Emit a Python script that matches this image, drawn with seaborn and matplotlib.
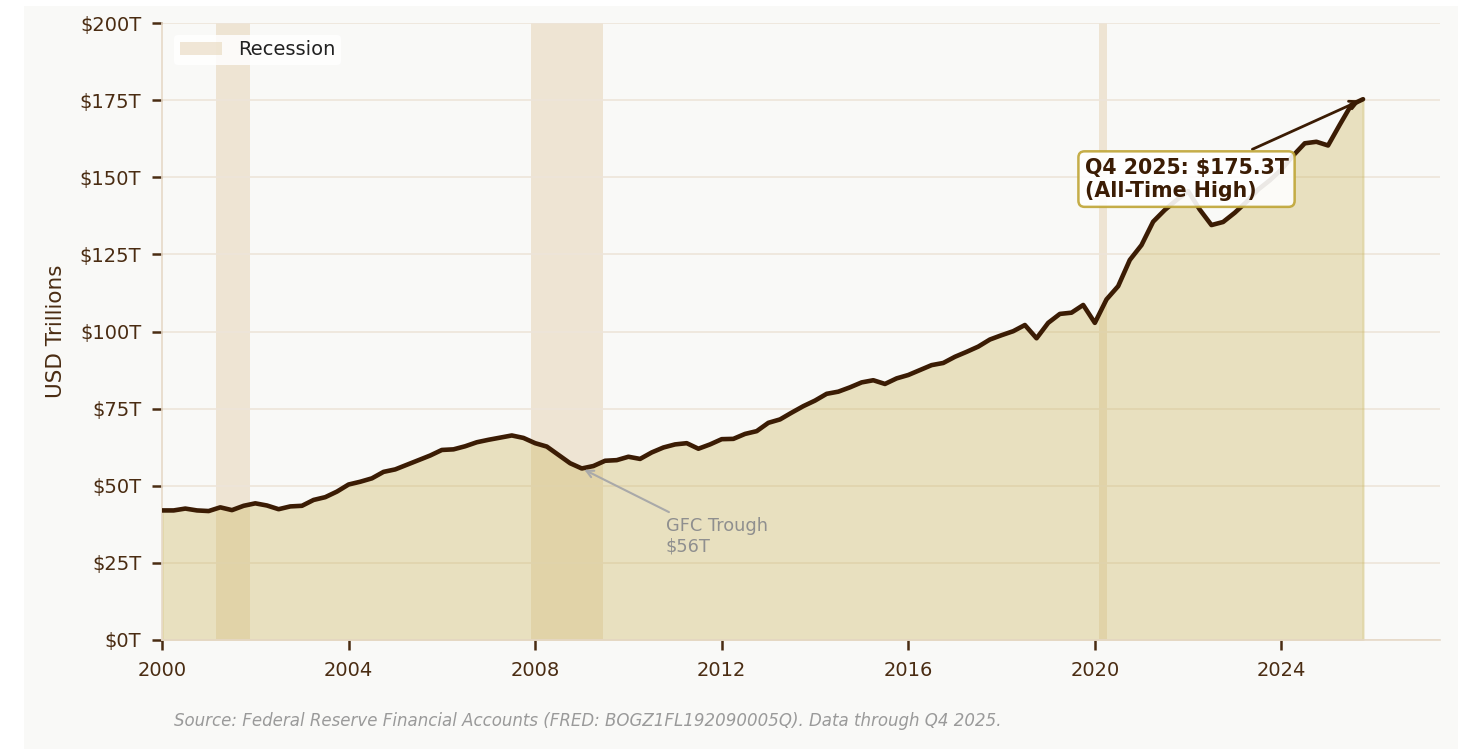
import numpy as np
import pandas as pd
import matplotlib
matplotlib.use("Agg")
import matplotlib.pyplot as plt
from matplotlib.patches import Rectangle
from matplotlib.ticker import FuncFormatter
import seaborn as sns

# Quarterly household & nonprofit net worth, USD trillions (Q1 2000 .. Q4 2025)
start_year = 2000
net_worth = [
    42.0, 42.0, 42.6, 42.0,      # 2000
    41.8, 43.0, 42.1, 43.5,      # 2001
    44.3, 43.6, 42.4, 43.3,      # 2002
    43.5, 45.4, 46.3, 48.1,      # 2003
    50.4, 51.3, 52.4, 54.5,      # 2004
    55.3, 56.8, 58.3, 59.8,      # 2005
    61.6, 61.8, 62.8, 64.1,      # 2006
    64.9, 65.6, 66.3, 65.5,      # 2007
    63.8, 62.7, 60.0, 57.3,      # 2008
    55.6, 56.4, 58.1, 58.3,      # 2009
    59.4, 58.7, 60.8, 62.4,      # 2010
    63.4, 63.8, 62.0, 63.4,      # 2011
    65.1, 65.2, 66.8, 67.7,      # 2012
    70.4, 71.5, 73.7, 75.8,      # 2013
    77.6, 79.8, 80.5, 81.9,      # 2014
    83.5, 84.2, 83.0, 84.8,      # 2015
    85.9, 87.5, 89.1, 89.8,      # 2016
    91.8, 93.4, 95.1, 97.4,      # 2017
    98.8, 100.1, 102.1, 97.8,    # 2018
    102.8, 105.7, 106.1, 108.6,  # 2019
    102.8, 110.4, 114.7, 123.2,  # 2020
    128.0, 135.6, 139.4, 142.6,  # 2021
    145.5, 139.5, 134.5, 135.5,  # 2022
    138.5, 142.0, 146.0, 149.0,  # 2023
    152.5, 157.0, 161.0, 161.5,  # 2024
    160.3, 167.0, 173.5, 175.3,  # 2025
]

# NBER recessions as fractional years
recession_starts = [2001.16, 2007.92, 2020.08]
recession_ends = [2001.88, 2009.46, 2020.27]

trough_year = 2009.0
trough_value = 55.6

y_ticks = [0, 25, 50, 75, 100, 125, 150, 175, 200]
x_ticks = [2000, 2004, 2008, 2012, 2016, 2020, 2024]

dates = start_year + np.arange(len(net_worth)) * 0.25
df = pd.DataFrame({"year": dates, "net_worth": net_worth})

# Palette
BG = "#f9f9f7"
LINE = "#3b1c04"
FILL = "#c9b458"
BAND = "#e6d4b6"
TEXT = "#4a2c12"
GRID = "#ede5da"
SPINE = "#e6d9c8"

sns.set_theme(style="white")
plt.rcParams["font.family"] = ["DejaVu Sans"]

fig = plt.figure(figsize=(14.58, 7.49), dpi=100, facecolor="white")
fig.patches.append(Rectangle((24 / 1458, 0), 1 - 24 / 1458, 1 - 6 / 749,
                             transform=fig.transFigure, facecolor=BG,
                             edgecolor="none", zorder=-10))
ax = fig.add_axes([162 / 1458, 1 - 640 / 749, (1440 - 162) / 1458, (640 - 23) / 749])
ax.set_facecolor(BG)

for i, (s, e) in enumerate(zip(recession_starts, recession_ends)):
    ax.axvspan(s, e, color=BAND, alpha=0.55, lw=0, zorder=0,
               label="Recession" if i == 0 else None)

ax.fill_between(df["year"], 0, df["net_worth"], color=FILL, alpha=0.35,
                lw=1.5, zorder=1)
sns.lineplot(data=df, x="year", y="net_worth", ax=ax, color=LINE,
             linewidth=3.3, zorder=3, legend=False)

ax.set_xlim(2000, 2027.4)
ax.set_ylim(0, 200)
ax.set_xticks(x_ticks)
ax.set_yticks(y_ticks)
ax.yaxis.set_major_formatter(FuncFormatter(lambda v, p: f"${v:.0f}T"))
ax.grid(axis="y", color=GRID, linewidth=1.2, zorder=0.5)
ax.grid(axis="x", visible=False)
ax.set_axisbelow(True)

for side in ["top", "right"]:
    ax.spines[side].set_visible(False)
for side in ["left", "bottom"]:
    ax.spines[side].set_color(SPINE)
    ax.spines[side].set_linewidth(1.2)

ax.tick_params(axis="both", colors=TEXT, labelsize=14, length=7,
               width=1.8, direction="out", bottom=True, left=True, pad=8)
ax.set_xlabel("")
ax.set_ylabel("USD Trillions", color=TEXT, fontsize=15.5, labelpad=10)

# Latest value callout
last_year = df["year"].iloc[-1]
last_value = df["net_worth"].iloc[-1]
ax.annotate(f"Q4 2025: ${last_value:.1f}T\n(All-Time High)",
            xy=(last_year, last_value), xytext=(2019.78, 149.4),
            ha="left", va="center", fontsize=14.8, fontweight="bold",
            color=LINE, zorder=5,
            bbox=dict(boxstyle="round,pad=0.3", fc="white", ec="#bfa535",
                      lw=1.8, alpha=0.9),
            arrowprops=dict(arrowstyle="->", color=LINE, lw=2.0))

# GFC trough callout
ax.annotate(f"GFC Trough\n${trough_value:.0f}T",
            xy=(trough_year, trough_value), xytext=(2010.8, 33.7),
            ha="left", va="center", fontsize=12.8, color="#8f8f8f",
            zorder=5,
            arrowprops=dict(arrowstyle="->", color="#a9a9a9", lw=1.5))

leg = ax.legend(loc="upper left", fontsize=14, frameon=True,
                facecolor="white", edgecolor="none", framealpha=0.85,
                borderpad=0.3, handlelength=2.2, borderaxespad=0.6)
for t in leg.get_texts():
    t.set_color("#222222")

fig.text(174 / 1458, 1 - 721 / 749,
         "Source: Federal Reserve Financial Accounts (FRED: BOGZ1FL192090005Q). "
         "Data through Q4 2025.",
         fontsize=12, style="italic", color="#9a9a9a", va="center")

fig.savefig("out.png", dpi=100, facecolor=fig.get_facecolor())
